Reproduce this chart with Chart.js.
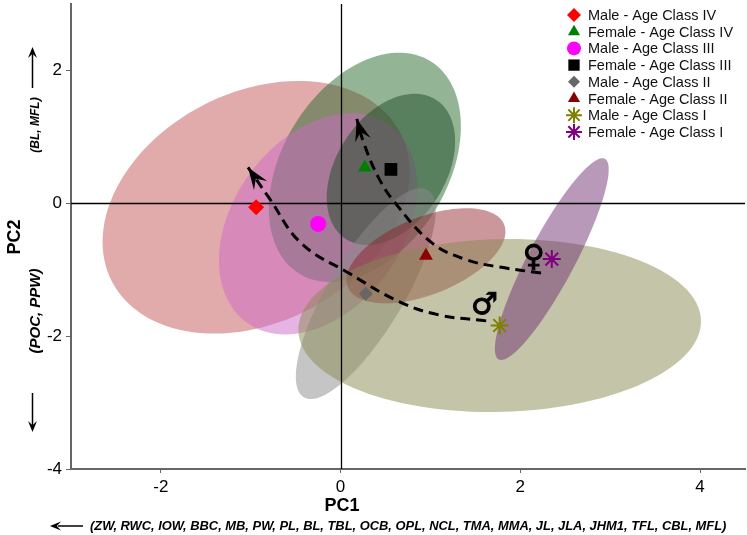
<!DOCTYPE html>
<html>
<head>
<meta charset="utf-8">
<script src="https://cdn.jsdelivr.net/npm/chart.js@4.4.1/dist/chart.umd.min.js"></script>
<style>
  html, body { margin: 0; padding: 0; background: #fff; }
  #wrap { width: 747px; height: 535px; }
</style>
</head>
<body>
<div id="wrap"><canvas id="pcaChart" width="747" height="535"></canvas></div>
<script>
// group means on the first two principal components
var groups = ["Male - Age Class IV", "Female - Age Class IV", "Male - Age Class III", "Female - Age Class III",
              "Male - Age Class II", "Female - Age Class II", "Male - Age Class I", "Female - Age Class I"];
var pc1Means = [-0.94, 0.27, -0.25, 0.56, 0.28, 0.95, 1.77, 2.35];
var pc2Means = [-0.06, 0.54, -0.31, 0.51, -1.36, -0.79, -1.84, -0.84];

// ellipse half-axes (conjugate semi-diameters, in PC units)
var ellMajorPC1 = [1.60, 0.73, 0.79, 0.50, 0.69, 0.87, 2.24, 0.59];
var ellMajorPC2 = [1.13, 1.60, 1.49, 1.05, 1.56, 0.47, 0.08, 1.51];
var ellMinorPC1 = [-0.60, -0.78, -0.77, -0.51, -0.36, -0.16, -0.03, -0.23];
var ellMinorPC2 = [1.53, 0.65, 0.74, 0.44, 0.29, 0.54, 1.30, 0.16];

// age trajectories (Age Class I -> IV)
var maleTrendPC1 = [1.62, 1.09, 0.65, 0.09, -0.44, -0.80, -1.03];
var maleTrendPC2 = [-1.77, -1.68, -1.48, -1.05, -0.60, 0.09, 0.54];
var femaleTrendPC1 = [2.23, 1.77, 1.40, 1.02, 0.61, 0.42, 0.26, 0.18];
var femaleTrendPC2 = [-1.05, -0.96, -0.85, -0.60, 0.00, 0.39, 0.90, 1.27];

var xTicks = [-2, 0, 2, 4];
var yTicks = [-4, -2, 0, 2];

// styles
var markerColors = ["#ff0000", "#008000", "#ff00ff", "#000000", "#666666", "#8b0000", "#808000", "#800080"];
var markerShapes = ["rectRot", "triangle", "circle", "rect", "rectRot", "triangle", "star", "star"];
var markerSizes = [8, 8, 8, 9, 7, 8, 9, 9];
var ellipseColors = ["rgba(195,88,88,0.5)", "rgba(41,105,45,0.5)", "rgba(205,105,200,0.5)", "rgba(30,75,40,0.5)",
                     "rgba(140,140,140,0.5)", "rgba(140,25,30,0.45)", "rgba(135,137,81,0.5)", "rgba(113,51,115,0.5)"];

var FONT = "'Liberation Sans', Arial, sans-serif";

var ellipsePlugin = {
  id: "ellipses",
  beforeDatasetsDraw: function(chart) {
    var ctx = chart.ctx, area = chart.chartArea;
    var xs = chart.scales.x, ys = chart.scales.y;
    ctx.save();
    ctx.beginPath();
    ctx.rect(area.left, area.top, area.right - area.left, area.bottom - area.top);
    ctx.clip();
    for (var i = 0; i < groups.length; i++) {
      ctx.beginPath();
      for (var k = 0; k <= 120; k++) {
        var t = 2 * Math.PI * k / 120;
        var vx = pc1Means[i] + Math.cos(t) * ellMajorPC1[i] + Math.sin(t) * ellMinorPC1[i];
        var vy = pc2Means[i] + Math.cos(t) * ellMajorPC2[i] + Math.sin(t) * ellMinorPC2[i];
        var px = xs.getPixelForValue(vx), py = ys.getPixelForValue(vy);
        if (k === 0) ctx.moveTo(px, py); else ctx.lineTo(px, py);
      }
      ctx.closePath();
      ctx.fillStyle = ellipseColors[i];
      ctx.fill();
    }
    // zero lines
    ctx.strokeStyle = "#000";
    ctx.lineWidth = 1.3;
    var x0 = Math.round(xs.getPixelForValue(0)) + 0.5;
    var y0 = Math.round(ys.getPixelForValue(0)) + 0.5;
    ctx.beginPath();
    ctx.moveTo(x0, area.top); ctx.lineTo(x0, area.bottom);
    ctx.moveTo(area.left, y0); ctx.lineTo(area.right, y0);
    ctx.stroke();
    ctx.restore();
  }
};

function arrowHead(ctx, tx, ty, fx, fy, L, W) {
  var dx = tx - fx, dy = ty - fy;
  var len = Math.sqrt(dx * dx + dy * dy);
  var ux = dx / len, uy = dy / len, nx = -uy, ny = ux;
  L = L || 22; W = W || 8;
  ctx.beginPath();
  ctx.moveTo(tx, ty);
  ctx.lineTo(tx - L * ux + W * nx, ty - L * uy + W * ny);
  ctx.lineTo(tx - 0.62 * L * ux, ty - 0.62 * L * uy);
  ctx.lineTo(tx - L * ux - W * nx, ty - L * uy - W * ny);
  ctx.closePath();
  ctx.fill();
}

function drawMarker(ctx, shape, r, x, y) {
  Chart.helpers.drawPoint(ctx, { pointStyle: shape, radius: r, borderWidth: shape === "star" ? 2 : 0, rotation: 0 }, x, y);
}

var decorPlugin = {
  id: "decor",
  afterDatasetsDraw: function(chart) {
    var ctx = chart.ctx;
    var xs = chart.scales.x, ys = chart.scales.y;
    ctx.save();
    ctx.fillStyle = "#000";
    // arrow heads at the end of the trajectories
    var m = maleTrendPC1.length - 1;
    arrowHead(ctx, xs.getPixelForValue(maleTrendPC1[m]), ys.getPixelForValue(maleTrendPC2[m]),
              xs.getPixelForValue(maleTrendPC1[m - 1]), ys.getPixelForValue(maleTrendPC2[m - 1]));
    var f = femaleTrendPC1.length - 1;
    arrowHead(ctx, xs.getPixelForValue(femaleTrendPC1[f]), ys.getPixelForValue(femaleTrendPC2[f]),
              xs.getPixelForValue(femaleTrendPC1[f - 1]), ys.getPixelForValue(femaleTrendPC2[f - 1]));
    // sex symbols
    ctx.font = "bold 30px 'DejaVu Sans', sans-serif";
    ctx.textAlign = "center";
    ctx.textBaseline = "middle";
    ctx.lineWidth = 1;
    ctx.strokeStyle = "#000";
    var mx = xs.getPixelForValue(1.60), my = ys.getPixelForValue(-1.55);
    var fx = xs.getPixelForValue(2.15), fy = ys.getPixelForValue(-0.83);
    ctx.fillText("\u2642", mx, my);
    ctx.strokeText("\u2642", mx, my);
    ctx.fillText("\u2640", fx, fy);
    ctx.strokeText("\u2640", fx, fy);
    ctx.restore();
  },
  afterDraw: function(chart) {
    var ctx = chart.ctx, area = chart.chartArea;
    ctx.save();
    // legend
    var lx = area.right - 171, ly = area.top + 11;
    ctx.font = "14.5px " + FONT;
    ctx.textAlign = "left";
    ctx.textBaseline = "middle";
    for (var i = 0; i < groups.length; i++) {
      var yy = ly + i * 16.7;
      ctx.fillStyle = markerColors[i];
      ctx.strokeStyle = markerColors[i];
      ctx.lineWidth = 2;
      drawMarker(ctx, markerShapes[i], markerSizes[i] - 1, lx, yy);
      ctx.fillStyle = "#111";
      ctx.fillText(groups[i], lx + 14, yy + 1);
    }

    // axis titles and notes
    ctx.fillStyle = "#000";
    ctx.textAlign = "center";
    ctx.font = "bold 18px " + FONT;
    ctx.fillText("PC1", 342, 506);
    ctx.font = "italic bold 12.9px " + FONT;
    ctx.textAlign = "left";
    ctx.fillText("(ZW, RWC, IOW, BBC, MB, PW, PL, BL, TBL, OCB, OPL, NCL, TMA, MMA, JL, JLA, JHM1, TFL, CBL, MFL)", 90, 526);
    // left-pointing arrow
    ctx.strokeStyle = "#000";
    ctx.lineWidth = 1.5;
    ctx.beginPath(); ctx.moveTo(58, 526); ctx.lineTo(83, 526); ctx.stroke();
    arrowHead(ctx, 50, 526, 60, 526, 11, 4.5);

    ctx.save();
    ctx.translate(15, 237);
    ctx.rotate(-Math.PI / 2);
    ctx.textAlign = "center";
    ctx.font = "bold 18px " + FONT;
    ctx.fillText("PC2", 0, 0);
    ctx.restore();

    ctx.save();
    ctx.translate(36, 125);
    ctx.rotate(-Math.PI / 2);
    ctx.textAlign = "center";
    ctx.font = "italic bold 12px " + FONT;
    ctx.fillText("(BL, MFL)", 0, 0);
    ctx.restore();

    ctx.save();
    ctx.translate(36, 311);
    ctx.rotate(-Math.PI / 2);
    ctx.textAlign = "center";
    ctx.font = "italic bold 15px " + FONT;
    ctx.fillText("(POC, PPW)", 0, 0);
    ctx.restore();

    ctx.beginPath(); ctx.moveTo(32.5, 88); ctx.lineTo(32.5, 54); ctx.stroke();
    arrowHead(ctx, 32.5, 47, 32.5, 57, 11, 4.5);
    ctx.beginPath(); ctx.moveTo(32.5, 393); ctx.lineTo(32.5, 425); ctx.stroke();
    arrowHead(ctx, 32.5, 432, 32.5, 422, 11, 4.5);
    ctx.restore();
  }
};

var datasets = [];
for (var i = 0; i < groups.length; i++) {
  datasets.push({
    type: "scatter",
    label: groups[i],
    data: [{ x: pc1Means[i], y: pc2Means[i] }],
    pointStyle: markerShapes[i],
    pointRadius: markerSizes[i],
    backgroundColor: markerColors[i],
    borderColor: markerColors[i],
    borderWidth: markerShapes[i] === "star" ? 2 : 0,
    order: 0
  });
}
function trend(px, py) {
  return px.map(function(v, k) { return { x: v, y: py[k] }; });
}
datasets.push({
  type: "line", label: "male trend", data: trend(maleTrendPC1, maleTrendPC2),
  borderColor: "#000", borderWidth: 3, borderDash: [10, 6], tension: 0.4, pointRadius: 0, fill: false, order: 1
});
datasets.push({
  type: "line", label: "female trend", data: trend(femaleTrendPC1, femaleTrendPC2),
  borderColor: "#000", borderWidth: 3, borderDash: [10, 6], tension: 0.4, pointRadius: 0, fill: false, order: 1
});

new Chart("pcaChart", {
  type: "scatter",
  data: { datasets: datasets },
  options: {
    responsive: false,
    animation: false,
    layout: { autoPadding: false, padding: { top: 4, right: 2, left: 0, bottom: 0 } },
    plugins: { legend: { display: false }, tooltip: { enabled: false } },
    scales: {
      x: {
        type: "linear", min: -3, max: 4.5,
        afterBuildTicks: function(s) { s.ticks = xTicks.map(function(v) { return { value: v }; }); },
        afterFit: function(s) { s.height = 66; s.paddingLeft = 0; s.paddingRight = 0; },
        grid: { drawOnChartArea: false, tickLength: 4, tickColor: "#666", color: "#666" },
        border: { color: "#666", width: 2 },
        ticks: { color: "#000", font: { family: "'Liberation Sans Narrow', 'Liberation Sans', Arial", size: 17 }, padding: 4 }
      },
      y: {
        type: "linear", min: -4, max: 3,
        afterBuildTicks: function(s) { s.ticks = yTicks.map(function(v) { return { value: v }; }); },
        afterFit: function(s) { s.width = 71; s.paddingTop = 0; s.paddingBottom = 0; },
        grid: { drawOnChartArea: false, tickLength: 5, tickColor: "#666", color: "#666" },
        border: { color: "#666", width: 2 },
        ticks: { color: "#000", font: { family: "'Liberation Sans Narrow', 'Liberation Sans', Arial", size: 17 }, padding: 4 }
      }
    }
  },
  plugins: [ellipsePlugin, decorPlugin]
});
</script>
</body>
</html>
